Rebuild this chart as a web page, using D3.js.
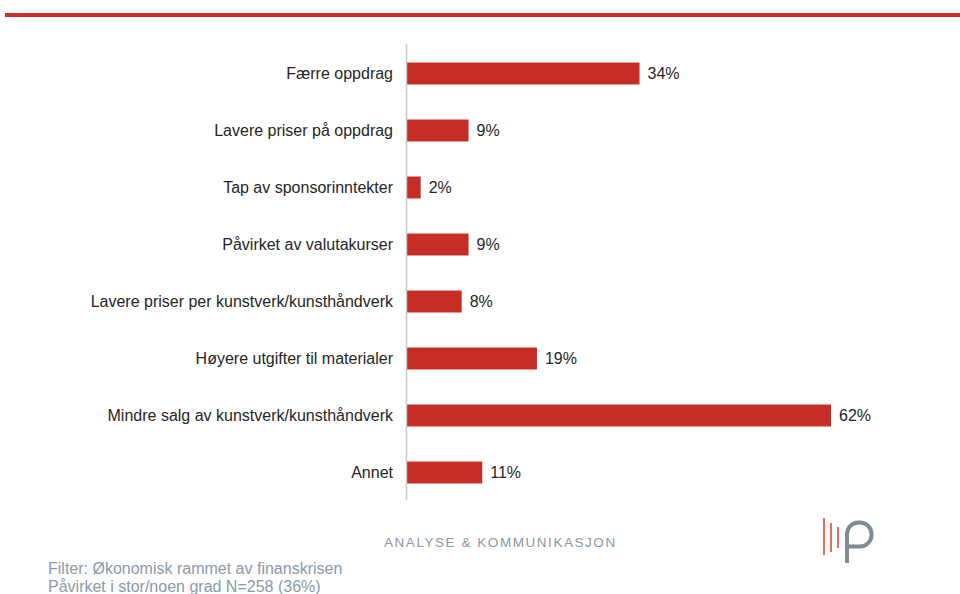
<!DOCTYPE html>
<html>
<head>
<meta charset="utf-8">
<script src="https://cdn.jsdelivr.net/npm/d3@7"></script>
<style>
  html, body { margin: 0; padding: 0; background: #fff; }
  svg { display: block; }
  text { font-family: "Liberation Sans", Arial, sans-serif; }
</style>
</head>
<body>
<svg id="chart" width="960" height="594"></svg>
<script>
// Categories and their share of respondents (%)
const categories = [
  "Færre oppdrag",
  "Lavere priser på oppdrag",
  "Tap av sponsorinntekter",
  "Påvirket av valutakurser",
  "Lavere priser per kunstverk/kunsthåndverk",
  "Høyere utgifter til materialer",
  "Mindre salg av kunstverk/kunsthåndverk",
  "Annet"
];
const values = [34, 9, 2, 9, 8, 19, 62, 11];
const footnotes = [
  "Filter: Økonomisk rammet av finanskrisen",
  "Påvirket i stor/noen grad N=258 (36%)"
];
const brand = "ANALYSE & KOMMUNIKASJON";

const data = categories.map((c, i) => ({ category: c, value: values[i] }));

const svg = d3.select("#chart");
const red = "#c62d25";

// Top rule
svg.append("rect")
  .attr("x", 5).attr("y", 13)
  .attr("width", 955).attr("height", 4)
  .attr("fill", "#cc2e27");

const x = d3.scaleLinear().domain([0, 62]).range([407, 831]);
const y = d3.scaleBand()
  .domain(categories)
  .range([45, 501])
  .paddingInner(0.615)
  .paddingOuter(0.3075);

// Bars
svg.append("g").selectAll("rect")
  .data(data)
  .join("rect")
  .attr("x", x(0))
  .attr("y", d => y(d.category))
  .attr("width", d => x(d.value) - x(0))
  .attr("height", y.bandwidth())
  .attr("fill", red);

// Category axis (labels only; the rule is drawn separately)
const yAxis = d3.axisLeft(y).tickSize(0).tickPadding(14);
const gAxis = svg.append("g")
  .attr("transform", `translate(${x(0)},0)`)
  .call(yAxis);
gAxis.select(".domain").remove();
gAxis.selectAll("text")
  .attr("font-size", 16)
  .attr("fill", "#262626")
  .style("font-family", "'Liberation Sans', Arial, sans-serif");

svg.append("line")
  .attr("x1", x(0) - 0.5).attr("x2", x(0) - 0.5)
  .attr("y1", 44).attr("y2", 500)
  .attr("stroke", "#c8c8c8")
  .attr("stroke-width", 1.5);

// Value labels
svg.append("g").selectAll("text")
  .data(data)
  .join("text")
  .attr("x", d => x(d.value) + 8)
  .attr("y", d => y(d.category) + y.bandwidth() / 2)
  .attr("dy", "0.35em")
  .attr("font-size", 16)
  .attr("fill", "#262626")
  .text(d => d.value + "%");

// Brand line
svg.append("text")
  .attr("x", 384).attr("y", 547)
  .attr("font-size", 13.5)
  .attr("letter-spacing", 1.55)
  .attr("fill", "#8d979d")
  .text(brand);

// Logo mark
const logo = svg.append("g");
[[824, 518, 555], [831, 523, 552], [838, 527, 548]].forEach(([lx, y1, y2]) => {
  logo.append("line")
    .attr("x1", lx).attr("x2", lx)
    .attr("y1", y1).attr("y2", y2)
    .attr("stroke", "#e0473a").attr("stroke-width", 1.6);
});
logo.append("path")
  .attr("d", "M847,563 V534 A11.5,11.5 0 0 1 858.5,522.5 H860 A11.5,11.5 0 0 1 871.5,534 V535 A11.5,11.5 0 0 1 860,546.5 H847")
  .attr("fill", "none")
  .attr("stroke", "#7f8c93")
  .attr("stroke-width", 4);

// Footnotes
svg.append("g").selectAll("text")
  .data(footnotes)
  .join("text")
  .attr("x", 48)
  .attr("y", (d, i) => 574 + i * 18)
  .attr("font-size", 16)
  .attr("fill", "#8a9aa8")
  .text(d => d);
</script>
</body>
</html>
